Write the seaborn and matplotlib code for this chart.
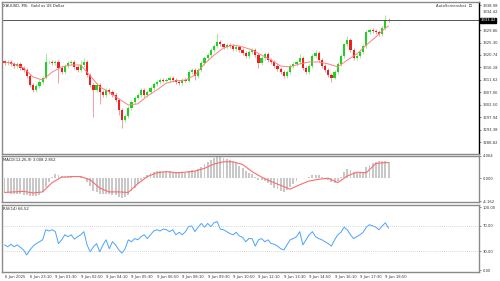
import numpy as np
import pandas as pd
import matplotlib
matplotlib.use("Agg")
import matplotlib.pyplot as plt
import matplotlib.transforms as mtransforms
import seaborn as sns

# ---- data ----
closes = [
    3317.8, 3318.2, 3317.5, 3316.7, 3317.5, 3316.0, 3315.3, 3313.1, 3309.8, 3308.0,
    3309.4, 3310.9, 3312.4, 3318.2, 3318.2, 3317.8, 3318.2, 3316.0, 3314.5, 3316.7,
    3317.8, 3318.2, 3316.4, 3315.3, 3317.1, 3318.2, 3313.4, 3309.8, 3308.0, 3309.8,
    3307.2, 3306.1, 3308.0, 3307.2, 3306.1, 3304.3, 3300.7, 3297.0, 3298.5, 3301.4,
    3303.6, 3305.1, 3306.1, 3308.0, 3306.1, 3307.2, 3308.7, 3310.2, 3310.9, 3311.6,
    3311.3, 3311.6, 3312.4, 3311.6, 3310.9, 3310.5, 3311.6, 3311.3, 3314.5, 3315.3,
    3313.1, 3315.3, 3317.8, 3319.6, 3320.7, 3322.6, 3324.0, 3325.5, 3324.7, 3323.7,
    3324.4, 3324.0, 3322.9, 3323.7, 3322.6, 3321.5, 3320.4, 3321.8, 3322.6, 3320.7,
    3317.8, 3319.6, 3321.1, 3318.9, 3318.2, 3316.7, 3315.6, 3314.5, 3313.1, 3314.5,
    3316.7, 3317.5, 3318.2, 3319.6, 3316.0, 3314.5, 3316.7, 3320.4, 3321.5, 3318.9,
    3316.7, 3315.3, 3313.4, 3312.4, 3314.5, 3317.5, 3320.4, 3324.7, 3326.2, 3322.6,
    3319.6, 3320.4, 3321.8, 3324.0, 3329.1, 3329.9, 3329.5, 3329.1, 3328.4, 3330.6,
    3333.5, 3333.4,
]
first_open = 3318.4
# notable wick extremes (bar index -> price)
wick_highs = {13: 3321.5, 24: 3318.8, 25: 3319.5, 67: 3328.8, 93: 3321.0,
              98: 3322.5, 108: 3327.5, 120: 3335.3}
wick_lows = {17: 3310.5, 28: 3298.1, 30: 3303.0, 36: 3299.0, 37: 3294.1,
             60: 3311.5, 80: 3316.0, 103: 3311.0}

ma_bars = list(range(0, 121, 3)) + [121]
ma_values = [
    3318.2, 3317.5, 3316.0, 3312.7, 3311.6, 3314.5, 3316.4, 3317.1, 3317.1, 3313.1,
    3309.1, 3307.2, 3304.7, 3302.5, 3302.9, 3305.8, 3308.0, 3310.5, 3311.3, 3311.6,
    3313.4, 3317.5, 3320.7, 3323.3, 3324.4, 3323.7, 3322.6, 3320.7, 3318.9, 3316.7,
    3316.4, 3317.5, 3318.2, 3318.2, 3317.5, 3316.4, 3318.9, 3321.1, 3324.4, 3327.3,
    3330.6, 3331.3,
]

macd_main = [
    -2.6, -2.7, -2.8, -2.8, -2.9, -2.8, -3.0, -3.1, -3.2, -3.3,
    -3.2, -3.0, -2.6, -1.6, -0.6, 0.2, 0.7, 0.6, 0.4, 0.3,
    0.3, 0.2, 0.1, 0.1, 0.2, 0.2, -0.6, -1.5, -2.3, -2.6,
    -2.8, -2.9, -2.8, -2.9, -3.0, -3.1, -3.4, -3.7, -3.5, -3.0,
    -2.4, -1.7, -1.0, -0.3, 0.2, 0.5, 0.9, 1.2, 1.3, 1.3,
    1.2, 1.2, 1.3, 1.2, 1.1, 1.0, 1.1, 1.0, 1.3, 1.5,
    1.4, 1.6, 2.0, 2.6, 3.0, 3.4, 3.7, 4.06, 3.9, 3.7,
    3.5, 3.3, 3.0, 2.7, 2.3, 1.8, 1.3, 1.0, 0.7, 0.2,
    -0.3, -0.4, -0.5, -0.9, -1.3, -1.7, -2.0, -2.3, -2.5, -2.2,
    -1.6, -1.0, -0.5, 0.0, 0.1, 0.1, 0.3, 0.5, 0.6, 0.5,
    0.3, 0.0, -0.3, -0.7, -0.8, -0.5, 0.3, 1.2, 1.7, 1.5,
    1.2, 1.0, 1.0, 1.2, 2.0, 2.5, 2.8, 3.0, 3.1, 3.1,
    3.1, 3.008,
]
macd_signal = [
    -2.6, -2.5, -2.4, -2.7, -2.5, -0.8, 0.2, 0.3, 0.3, -0.3,
    -1.8, -2.5, -2.5, -2.6, -1.0, 0.3, 1.0, 1.2, 1.0, 1.1,
    1.3, 1.8, 2.6, 3.0, 3.0, 2.5, 1.2, 0.2, -0.6, -1.3,
    -2.0, -1.2, -0.5, -0.2, 0.0, -0.8, 0.4, 1.1, 1.0, 2.7,
    2.85, 2.852,
]

rsi = [
    40, 37, 41, 37, 40, 36, 32, 24, 32, 38,
    42, 45, 48, 64, 62, 64, 61, 42, 48, 56,
    53, 56, 49, 53, 56, 61, 40, 29, 37, 42,
    29, 40, 48, 34, 45, 40, 32, 27, 34, 48,
    45, 50, 48, 53, 56, 50, 56, 62, 64, 62,
    65, 64, 61, 64, 56, 60, 56, 61, 69, 70,
    61, 68, 74, 68, 74, 69, 75, 77, 65, 64,
    61, 58, 56, 60, 54, 52, 45, 50, 50, 38,
    48, 50, 45, 48, 42, 41, 38, 34, 32, 40,
    48, 50, 53, 61, 40, 48, 56, 61, 53, 50,
    48, 45, 42, 38, 48, 56, 60, 68, 64, 56,
    50, 53, 56, 60, 68, 72, 70, 68, 64, 70,
    75, 66.52,
]

price_ticks = [3338.98, 3334.42, 3329.86, 3325.30, 3320.74, 3316.18,
               3311.62, 3307.06, 3302.50, 3297.94, 3293.38, 3288.82]
time_labels = ["6 Jun 2025", "6 Jun 23:10", "9 Jun 01:30", "9 Jun 02:50",
               "9 Jun 04:10", "9 Jun 05:30", "9 Jun 06:50", "9 Jun 08:10",
               "9 Jun 09:30", "9 Jun 10:50", "9 Jun 12:10", "9 Jun 13:30",
               "9 Jun 14:50", "9 Jun 16:10", "9 Jun 17:30", "9 Jun 18:50"]
time_label_bars = list(range(0, 121, 8))
last_price = 3333.42

# ---- build candle table ----
df = pd.DataFrame({"close": closes})
df["bar"] = np.arange(len(df))
df["open"] = df["close"].shift(1).fillna(first_open)
body_top = df[["open", "close"]].max(axis=1)
body_bot = df[["open", "close"]].min(axis=1)
df["high"] = [wick_highs.get(i, t + 0.6) for i, t in zip(df["bar"], body_top)]
df["low"] = [wick_lows.get(i, b - 0.6) for i, b in zip(df["bar"], body_bot)]
df["up"] = df["close"] >= df["open"]

sns.set_style("white")
plt.rcParams["font.family"] = ["DejaVu Sans"]
fs = 2.7
grid_col = "#8a8a8a"
txt_col = "#333333"

fig = plt.figure(figsize=(5.0, 2.81), dpi=100)
ax_p = fig.add_axes([0.004, 0.452, 0.954, 0.541])
ax_m = fig.add_axes([0.004, 0.281, 0.954, 0.164], sharex=ax_p)
ax_r = fig.add_axes([0.004, 0.032, 0.954, 0.238], sharex=ax_p)

green, red = "#1ed21e", "#f01e1e"
cols = np.where(df["up"], green, red)

# candles
ax_p.vlines(df["bar"], df["low"], df["high"], colors=cols, linewidth=0.6, alpha=0.5)
heights = np.maximum(body_top - body_bot, 0.15)
ax_p.bar(df["bar"], heights, bottom=body_bot, width=0.7, color=cols, linewidth=0)

# moving average
sns.lineplot(x=ma_bars, y=ma_values, ax=ax_p, color="#ff8080", linewidth=0.7)
ax_p.axhline(last_price, color="#555555", linewidth=0.7)

ax_p.set_xlim(-0.8, 149.5)
ax_p.set_ylim(3284.6, 3340.1)
ax_p.yaxis.tick_right()
ax_p.set_yticks(price_ticks)
# the 3334.42 label is nudged above the current-price box, as in the screenshot
ax_p.set_yticklabels(["" if i == 1 else f"{v:.2f}" for i, v in enumerate(price_ticks)])
right_tr = mtransforms.blended_transform_factory(ax_p.transAxes, ax_p.transData)
ax_p.text(1.0, price_ticks[1], f"{price_ticks[1]:.2f}",
          transform=right_tr + mtransforms.ScaledTranslation(2.5 / 72, 4.0 / 72, fig.dpi_scale_trans),
          ha="left", va="center", fontsize=fs, color=txt_col)
ax_p.text(1.003, last_price, f"{last_price:.2f}", transform=right_tr,
          ha="left", va="center", fontsize=fs, color="white", zorder=10,
          bbox=dict(boxstyle="square,pad=0.1", fc="black", ec="black"))
ax_p.text(0.002, 0.985, "XAUUSD, M5:  Gold vs US Dollar", transform=ax_p.transAxes,
          ha="left", va="top", fontsize=fs, color="#222222")
ax_p.text(0.985, 0.985, "AutoScreenshot  \u2610", transform=ax_p.transAxes,
          ha="right", va="top", fontsize=fs, color=txt_col)

# MACD
ax_m.bar(np.arange(len(macd_main)), macd_main, width=0.6, color="#c8c8c8", linewidth=0)
sns.lineplot(x=ma_bars, y=macd_signal, ax=ax_m, color="#ff6b6b", linewidth=0.8)
ax_m.set_ylim(-4.35, 4.064)
ax_m.yaxis.tick_right()
ax_m.set_yticks([4.064, 0.0, -4.162])
ax_m.set_yticklabels(["4.064", "0.000", "-4.162"])
ax_m.text(0.002, 0.96, "MACD(12,26,9) 3.008 2.852", transform=ax_m.transAxes,
          ha="left", va="top", fontsize=fs, color="#222222")

# RSI
sns.lineplot(x=np.arange(len(rsi)), y=rsi, ax=ax_r, color="#4aa3ff", linewidth=0.7)
for lvl in (70, 30):
    ax_r.axhline(lvl, color="#b0b0b0", linewidth=0.5, linestyle=(0, (1, 2)))
ax_r.set_ylim(-3, 103)
ax_r.yaxis.tick_right()
ax_r.set_yticks([100, 70, 30, 0])
ax_r.set_yticklabels(["100.00", "70.00", "30.00", "0.00"])
ax_r.text(0.002, 0.975, "RSI(14) 66.52", transform=ax_r.transAxes,
          ha="left", va="top", fontsize=fs, color="#222222")

ax_r.set_xticks(time_label_bars)
ax_r.set_xticklabels(time_labels, ha="left")
for a in (ax_p, ax_m):
    plt.setp(a.get_xticklabels(), visible=False)
    a.tick_params(axis="x", length=0)

for a in (ax_p, ax_m, ax_r):
    a.tick_params(axis="y", labelsize=fs, length=1.5, width=0.4, pad=1, colors=txt_col)
    a.set_xlabel("")
    a.set_ylabel("")
    for s in a.spines.values():
        s.set_color(grid_col)
        s.set_linewidth(1.0)
ax_p.spines["right"].set_color("black")
ax_r.tick_params(axis="x", labelsize=fs, length=1.5, width=0.4, pad=1, colors=txt_col)

fig.savefig("out.png", dpi=100, facecolor="white")
